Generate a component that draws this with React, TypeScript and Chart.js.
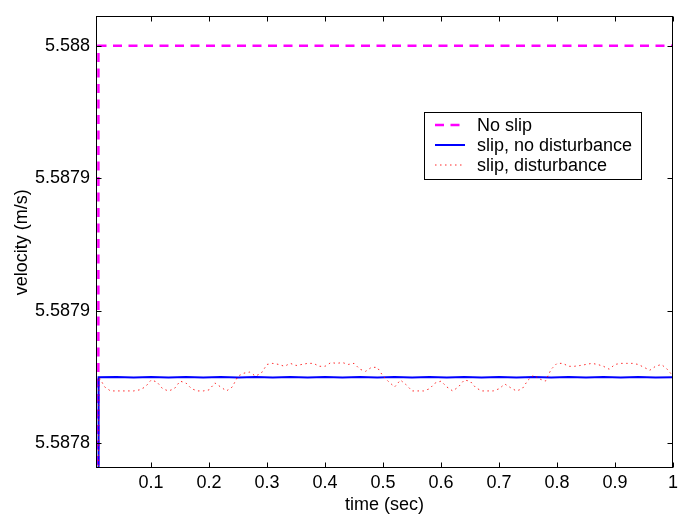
import React, { useEffect, useRef } from 'react';
import { Chart, registerables } from 'chart.js';

Chart.register(...registerables);

const FONT = '"Liberation Sans", Arial, Helvetica, sans-serif';

const seriesLabels = ['No slip', 'slip, no disturbance', 'slip, disturbance'];

const noSlipTime = [0.009, 0.0092, 1.0];
const noSlipVel = [5.58783, 5.588, 5.588];

const blueTime = [0.009, 0.0095, 0.04, 0.07, 0.10, 0.13, 0.16, 0.19, 0.22, 0.25, 0.28, 0.31, 0.34, 0.37, 0.40, 0.43, 0.46, 0.49, 0.52, 0.55, 0.58, 0.61, 0.64, 0.67, 0.70, 0.73, 0.76, 0.79, 0.82, 0.85, 0.88, 0.91, 0.94, 0.97, 1.0];
const blueVel = [5.58783, 5.5878749, 5.5878750, 5.5878748, 5.5878750, 5.5878748, 5.5878750, 5.5878748, 5.5878750, 5.5878748, 5.5878750, 5.5878748, 5.5878750, 5.5878748, 5.5878750, 5.5878748, 5.5878750, 5.5878748, 5.5878750, 5.5878748, 5.5878750, 5.5878748, 5.5878750, 5.5878748, 5.5878750, 5.5878748, 5.5878750, 5.5878748, 5.5878750, 5.5878748, 5.5878750, 5.5878748, 5.5878750, 5.5878748, 5.5878749];

const redTime = [0.009, 0.010, 0.015, 0.02, 0.03, 0.04, 0.05, 0.06, 0.07, 0.08, 0.09, 0.10, 0.11, 0.12, 0.13, 0.14, 0.15, 0.16, 0.17, 0.18, 0.19, 0.20, 0.21, 0.22, 0.23, 0.24, 0.25, 0.26, 0.27, 0.28, 0.29, 0.30, 0.31, 0.32, 0.33, 0.34, 0.35, 0.36, 0.37, 0.38, 0.39, 0.40, 0.41, 0.42, 0.43, 0.44, 0.45, 0.46, 0.47, 0.48, 0.49, 0.50, 0.51, 0.52, 0.53, 0.54, 0.55, 0.56, 0.57, 0.58, 0.59, 0.60, 0.61, 0.62, 0.63, 0.64, 0.65, 0.66, 0.67, 0.68, 0.69, 0.70, 0.71, 0.72, 0.73, 0.74, 0.75, 0.76, 0.77, 0.78, 0.79, 0.80, 0.81, 0.82, 0.83, 0.84, 0.85, 0.86, 0.87, 0.88, 0.89, 0.90, 0.91, 0.92, 0.93, 0.94, 0.95, 0.96, 0.97, 0.98, 0.99, 1.00];
const redVel = [5.58783, 5.5878749, 5.5878731, 5.5878712, 5.5878697, 5.5878697, 5.5878697, 5.5878697, 5.5878697, 5.5878701, 5.5878712, 5.5878738, 5.5878731, 5.5878705, 5.5878697, 5.5878705, 5.5878734, 5.5878727, 5.5878705, 5.5878697, 5.5878697, 5.5878701, 5.5878727, 5.5878712, 5.5878697, 5.5878712, 5.5878753, 5.5878764, 5.5878768, 5.5878753, 5.5878764, 5.5878797, 5.5878801, 5.5878797, 5.5878790, 5.5878801, 5.5878793, 5.5878797, 5.5878801, 5.5878801, 5.5878790, 5.5878790, 5.5878804, 5.5878801, 5.5878804, 5.5878797, 5.5878801, 5.5878779, 5.5878771, 5.5878786, 5.5878786, 5.5878753, 5.5878731, 5.5878712, 5.5878738, 5.5878720, 5.5878697, 5.5878697, 5.5878697, 5.5878705, 5.5878727, 5.5878734, 5.5878712, 5.5878697, 5.5878712, 5.5878738, 5.5878734, 5.5878709, 5.5878697, 5.5878697, 5.5878697, 5.5878705, 5.5878723, 5.5878709, 5.5878697, 5.5878705, 5.5878738, 5.5878757, 5.5878742, 5.5878734, 5.5878779, 5.5878801, 5.5878801, 5.5878790, 5.5878790, 5.5878793, 5.5878797, 5.5878801, 5.5878797, 5.5878790, 5.5878779, 5.5878797, 5.5878801, 5.5878801, 5.5878801, 5.5878797, 5.5878786, 5.5878775, 5.5878790, 5.5878797, 5.5878779, 5.5878753];

const xTickValues = [0.1, 0.2, 0.3, 0.4, 0.5, 0.6, 0.7, 0.8, 0.9, 1.0];
const xTickLabels = ['0.1', '0.2', '0.3', '0.4', '0.5', '0.6', '0.7', '0.8', '0.9', '1'];
const yTickValues = [5.58785, 5.5879, 5.58795, 5.588];
const yTickLabels = ['5.5878', '5.5879', '5.5879', '5.588'];

const xMin = 0.005;
const xMax = 1.0;
const yMin = 5.5878408;
const yMax = 5.5880109;

const toPoints = (xs: number[], ys: number[]) => xs.map((x, i) => ({ x, y: ys[i] }));

const framePlugin = {
  id: 'matlabFrame',
  afterDatasetsDraw(chart: any) {
    const { ctx, chartArea: a, scales } = chart;
    ctx.save();
    ctx.setLineDash([]);
    ctx.strokeStyle = '#000';
    ctx.lineWidth = 1;
    const L = Math.floor(a.left) + 0.5;
    const T = Math.floor(a.top) + 0.5;
    const R = Math.floor(a.right) + 0.5;
    const B = Math.floor(a.bottom) + 0.5;
    ctx.strokeRect(L, T, R - L, B - T);
    const tl = 5;
    ctx.beginPath();
    xTickValues.forEach((v) => {
      const px = Math.round(scales.x.getPixelForValue(v)) + 0.5;
      ctx.moveTo(px, B);
      ctx.lineTo(px, B - tl);
      ctx.moveTo(px, T);
      ctx.lineTo(px, T + tl);
    });
    yTickValues.forEach((v) => {
      const py = Math.round(scales.y.getPixelForValue(v)) + 0.5;
      ctx.moveTo(L, py);
      ctx.lineTo(L + tl, py);
      ctx.moveTo(R, py);
      ctx.lineTo(R - tl, py);
    });
    ctx.stroke();
    ctx.restore();
  },
};

const legendPlugin = {
  id: 'matlabLegend',
  afterDraw(chart: any) {
    const { ctx } = chart;
    const box = { x: 424.5, y: 112.5, w: 217, h: 67 };
    const rows = [125, 145, 165];
    ctx.save();
    ctx.setLineDash([]);
    ctx.fillStyle = '#fff';
    ctx.fillRect(box.x, box.y, box.w, box.h);
    ctx.strokeStyle = '#000';
    ctx.lineWidth = 1;
    ctx.strokeRect(box.x, box.y, box.w, box.h);
    chart.data.datasets.forEach((ds: any, i: number) => {
      const y = rows[i];
      ctx.save();
      ctx.strokeStyle = ds.borderColor;
      ctx.lineWidth = ds.borderWidth;
      ctx.setLineDash(ds.borderDash || []);
      ctx.beginPath();
      ctx.moveTo(435, y);
      ctx.lineTo(465, y);
      ctx.stroke();
      ctx.restore();
      ctx.fillStyle = '#000';
      ctx.font = `18px ${FONT}`;
      ctx.textAlign = 'left';
      ctx.textBaseline = 'middle';
      ctx.fillText(ds.label, 477, y + 1);
    });
    ctx.restore();
  },
};

export default function App() {
  const ref = useRef<HTMLCanvasElement | null>(null);

  useEffect(() => {
    if (!ref.current) return;
    const chart = new Chart(ref.current, {
      type: 'line',
      data: {
        datasets: [
          {
            label: seriesLabels[0],
            data: toPoints(noSlipTime, noSlipVel),
            borderColor: 'rgb(255,0,255)',
            borderWidth: 2.5,
            borderDash: [9, 6.5],
            pointRadius: 0,
            fill: false,
            tension: 0,
            order: 3,
          },
          {
            label: seriesLabels[1],
            data: toPoints(blueTime, blueVel),
            borderColor: 'rgb(0,0,255)',
            borderWidth: 2,
            pointRadius: 0,
            fill: false,
            tension: 0,
            order: 2,
          },
          {
            label: seriesLabels[2],
            data: toPoints(redTime, redVel),
            borderColor: 'rgba(255,0,0,0.85)',
            borderWidth: 1,
            borderDash: [1.5, 3.5],
            pointRadius: 0,
            fill: false,
            tension: 0,
            order: 1,
          },
        ],
      },
      options: {
        animation: false,
        responsive: false,
        devicePixelRatio: 1,
        layout: { padding: { left: 0, top: 6.5, right: 3, bottom: 0 } },
        plugins: { legend: { display: false }, tooltip: { enabled: false } },
        scales: {
          x: {
            type: 'linear',
            min: xMin,
            max: xMax,
            grid: { display: false, drawTicks: false },
            border: { display: false },
            afterBuildTicks: (s: any) => {
              s.ticks = xTickValues.map((v) => ({ value: v }));
            },
            afterFit: (s: any) => {
              s.height = 48.5;
            },
            ticks: {
              autoSkip: false,
              maxRotation: 0,
              padding: 5,
              color: '#000',
              font: { family: FONT, size: 18 },
              callback: (_v: any, i: number) => xTickLabels[i],
            },
            title: {
              display: true,
              text: 'time (sec)',
              color: '#000',
              font: { family: FONT, size: 18 },
              padding: { top: 0, bottom: 0 },
            },
          },
          y: {
            type: 'linear',
            min: yMin,
            max: yMax,
            grid: { display: false, drawTicks: false },
            border: { display: false },
            afterBuildTicks: (s: any) => {
              s.ticks = yTickValues.map((v) => ({ value: v }));
            },
            afterFit: (s: any) => {
              s.width = 96;
            },
            ticks: {
              autoSkip: false,
              padding: 6,
              color: '#000',
              font: { family: FONT, size: 18 },
              callback: (_v: any, i: number) => yTickLabels[i],
            },
            title: {
              display: true,
              text: 'velocity (m/s)',
              color: '#000',
              font: { family: FONT, size: 18 },
              padding: { top: 11, bottom: 0 },
            },
          },
        },
      },
      plugins: [framePlugin, legendPlugin],
    });
    return () => chart.destroy();
  }, []);

  return (
    <canvas
      ref={ref}
      width={683}
      height={516}
      style={{ position: 'absolute', left: 0, top: 0, width: 683, height: 516, background: '#fff' }}
    />
  );
}
